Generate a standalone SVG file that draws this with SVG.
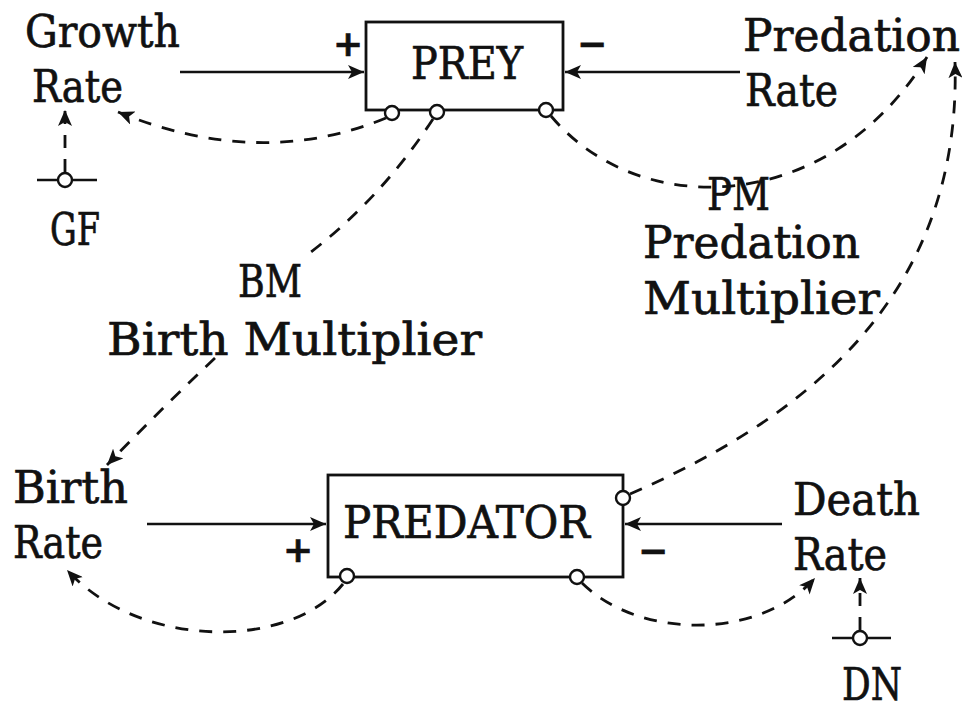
<svg xmlns="http://www.w3.org/2000/svg" width="962" height="709" viewBox="0 0 962 709">
<style>
  text { font-family: "DejaVu Serif", "Liberation Serif", serif; font-size: 44px; fill: #111; stroke: #111; stroke-width: 0.7; }
  .box { fill: #fff; stroke: #111; stroke-width: 2.8; }
  .flow { fill: none; stroke: #111; stroke-width: 2.5; }
  .info { fill: none; stroke: #111; stroke-width: 2.8; stroke-dasharray: 13 11; }
  .tap { fill: #fff; stroke: #111; stroke-width: 2.4; }
  .sign { font-weight: bold; font-size: 36px; }
</style>
<defs>
  <marker id="ah" markerUnits="userSpaceOnUse" markerWidth="18" markerHeight="14" refX="16" refY="7" orient="auto">
    <path d="M0,0 L16,7 L0,14 L4,7 z" fill="#111"/>
  </marker>
</defs>

<g id="connectors">
  <!-- flows -->
  <path class="flow" d="M180,72 L364,72" marker-end="url(#ah)"/>
  <path class="flow" d="M740,72 L565,72" marker-end="url(#ah)"/>
  <path class="flow" d="M147,524 L326,524" marker-end="url(#ah)"/>
  <path class="flow" d="M782,524 L625,524" marker-end="url(#ah)"/>
  <!-- info links -->
  <path class="info" d="M386,118 Q260,170 118,112" marker-end="url(#ah)"/>
  <path class="info" d="M65,172 L65,110" marker-end="url(#ah)"/>
  <path class="info" d="M551,116 C640,222 830,215 927,57" marker-end="url(#ah)"/>
  <path class="info" d="M433,119 Q380,200 307,255"/>
  <path class="info" d="M215,358 Q160,410 107,465" marker-end="url(#ah)"/>
  <path class="info" d="M630,494 C800,420 962,300 955,62" marker-end="url(#ah)"/>
  <path class="info" d="M343,584 C290,650 140,650 67,570" marker-end="url(#ah)"/>
  <path class="info" d="M582,583 C640,640 760,640 815,578" marker-end="url(#ah)"/>
  <path class="info" d="M860,630 L860,578" marker-end="url(#ah)"/>
</g>

<g id="prey">
  <rect class="box" x="366" y="22" width="197" height="88"/>
  <text x="411" y="79" textLength="112" lengthAdjust="spacingAndGlyphs">PREY</text>
  <circle class="tap" cx="392" cy="113" r="7"/>
  <circle class="tap" cx="437" cy="112" r="7"/>
  <circle class="tap" cx="546" cy="110" r="7"/>
  <text class="sign" x="348" y="56" text-anchor="middle">+</text>
  <text class="sign" x="592" y="56" text-anchor="middle">−</text>
</g>

<g id="growth-rate">
  <text x="25" y="47" textLength="155" lengthAdjust="spacingAndGlyphs">Growth</text>
  <text x="32" y="102" textLength="91" lengthAdjust="spacingAndGlyphs">Rate</text>
</g>

<g id="gf">
  <line class="flow" x1="37" y1="180" x2="97" y2="180"/>
  <circle class="tap" cx="65" cy="180" r="7"/>
  <text x="50" y="245" textLength="50" lengthAdjust="spacingAndGlyphs">GF</text>
</g>

<g id="predation-rate">
  <text x="743" y="51" textLength="217" lengthAdjust="spacingAndGlyphs">Predation</text>
  <text x="745" y="106" textLength="93" lengthAdjust="spacingAndGlyphs">Rate</text>
</g>

<g id="pm">
  <text x="707" y="210" textLength="63" lengthAdjust="spacingAndGlyphs">PM</text>
  <text x="643" y="258" textLength="217" lengthAdjust="spacingAndGlyphs">Predation</text>
  <text x="643" y="314" textLength="237" lengthAdjust="spacingAndGlyphs">Multiplier</text>
</g>

<g id="bm">
  <text x="238" y="297" textLength="64" lengthAdjust="spacingAndGlyphs">BM</text>
  <text x="107" y="355" textLength="375" lengthAdjust="spacingAndGlyphs">Birth Multiplier</text>
</g>

<g id="birth-rate">
  <text x="13" y="503" textLength="115" lengthAdjust="spacingAndGlyphs">Birth</text>
  <text x="13" y="558" textLength="90" lengthAdjust="spacingAndGlyphs">Rate</text>
</g>

<g id="predator">
  <rect class="box" x="328" y="475" width="295" height="102"/>
  <text x="343" y="538" textLength="247" lengthAdjust="spacingAndGlyphs">PREDATOR</text>
  <circle class="tap" cx="623" cy="498" r="7"/>
  <circle class="tap" cx="347" cy="576" r="7"/>
  <circle class="tap" cx="577" cy="577" r="7"/>
  <text class="sign" x="298" y="562" text-anchor="middle">+</text>
  <text class="sign" x="653" y="563" text-anchor="middle">−</text>
</g>

<g id="death-rate">
  <text x="793" y="515" textLength="127" lengthAdjust="spacingAndGlyphs">Death</text>
  <text x="793" y="570" textLength="94" lengthAdjust="spacingAndGlyphs">Rate</text>
</g>

<g id="dn">
  <line class="flow" x1="832" y1="638" x2="891" y2="638"/>
  <circle class="tap" cx="860" cy="638" r="7"/>
  <text x="842" y="700" textLength="60" lengthAdjust="spacingAndGlyphs">DN</text>
</g>
</svg>
